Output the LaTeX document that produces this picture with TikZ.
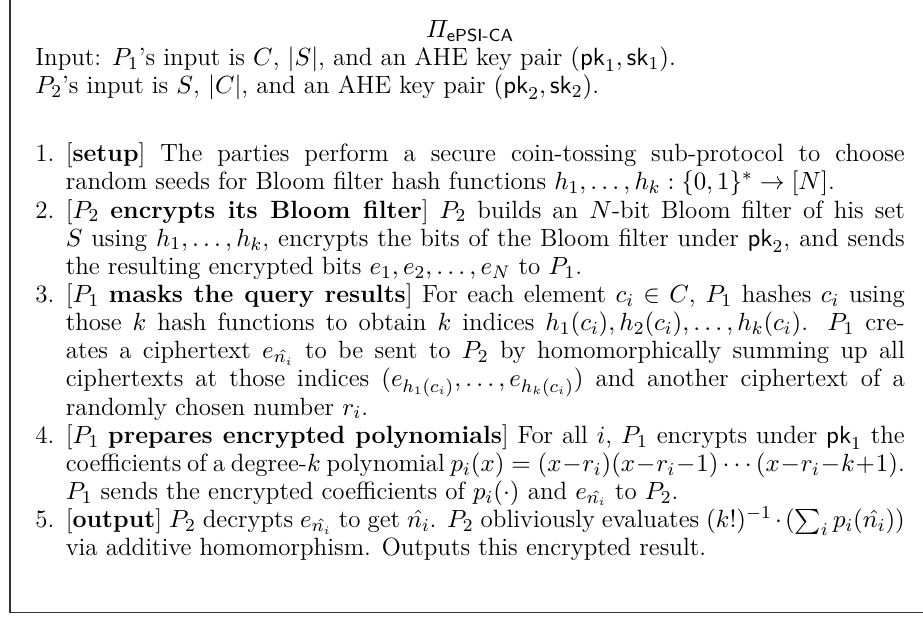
\documentclass[tikz,border=0pt]{standalone}
\usepackage{amsmath,amssymb}
\usepackage{enumitem}
\begin{document}
\begin{tikzpicture}[x=1pt,y=1pt]
  \useasboundingbox (0,0) rectangle (406.6,271.8);
  % frame: only the left and bottom edges are inside the picture
  \draw[line width=0.75pt, black!80] (4.4,290) |- (420,2.0);
  \node[anchor=north west, inner sep=0pt] (body) at (15.4,263.0) {%
    \begin{minipage}{383pt}
      \fontsize{11pt}{12.4pt}\selectfont
      \centerline{$\varPi_{\textsf{ePSI-CA}}$}
      \noindent Input: $P_1$'s input is $C$, $|S|$, and an AHE key pair $(\mathsf{pk}_1,\mathsf{sk}_1)$.\\
      $P_2$'s input is $S$, $|C|$, and an AHE key pair $(\mathsf{pk}_2,\mathsf{sk}_2)$.
      \par\vspace{17.6pt}
      \begin{enumerate}[leftmargin=*, itemsep=0pt, topsep=0pt, parsep=0pt, partopsep=0pt]
        \item {[}\textbf{setup}{]} The parties perform a secure coin-tossing sub-protocol to choose\linebreak
          random seeds for Bloom filter hash functions $h_1,\ldots,h_k:\{0,1\}^*\to[N]$.
        \item {[}$P_2$ \textbf{encrypts its Bloom filter}{]} $P_2$ builds an $N$-bit Bloom filter of his set\linebreak
          $S$ using $h_1,\ldots,h_k$, encrypts the bits of the Bloom filter under $\mathsf{pk}_2$, and sends\linebreak
          the resulting encrypted bits $e_1,e_2,\ldots,e_N$ to $P_1$.
        \item {[}$P_1$ \textbf{masks the query results}{]} For each element $c_i\in C$, $P_1$ hashes $c_i$ using\linebreak
          those $k$ hash functions to obtain $k$ indices $h_1(c_i),h_2(c_i),\ldots,h_k(c_i)$. $P_1$ cre-\linebreak
          ates a ciphertext $e_{\hat{n_i}}$ to be sent to $P_2$ by homomorphically summing up all\linebreak
          ciphertexts at those indices $(e_{h_1(c_i)},\ldots,e_{h_k(c_i)})$ and another ciphertext of a\linebreak
          randomly chosen number $r_i$.
        \item {[}$P_1$ \textbf{prepares encrypted polynomials}{]} For all $i$, $P_1$ encrypts under $\mathsf{pk}_1$ the\linebreak
          coefficients of a degree-$k$ polynomial $p_i(x)=(x-r_i)(x-r_i-1)\cdots(x-r_i-k+1)$.\linebreak
          $P_1$ sends the encrypted coefficients of $p_i(\cdot)$ and $e_{\hat{n_i}}$ to $P_2$.
        \item {[}\textbf{output}{]} $P_2$ decrypts $e_{\hat{n_i}}$ to get $\hat{n_i}$. $P_2$ obliviously evaluates $(k!)^{-1}\cdot(\sum_i p_i(\hat{n_i}))$\linebreak
          via additive homomorphism. Outputs this encrypted result.
      \end{enumerate}
    \end{minipage}};
\end{tikzpicture}
\end{document}
